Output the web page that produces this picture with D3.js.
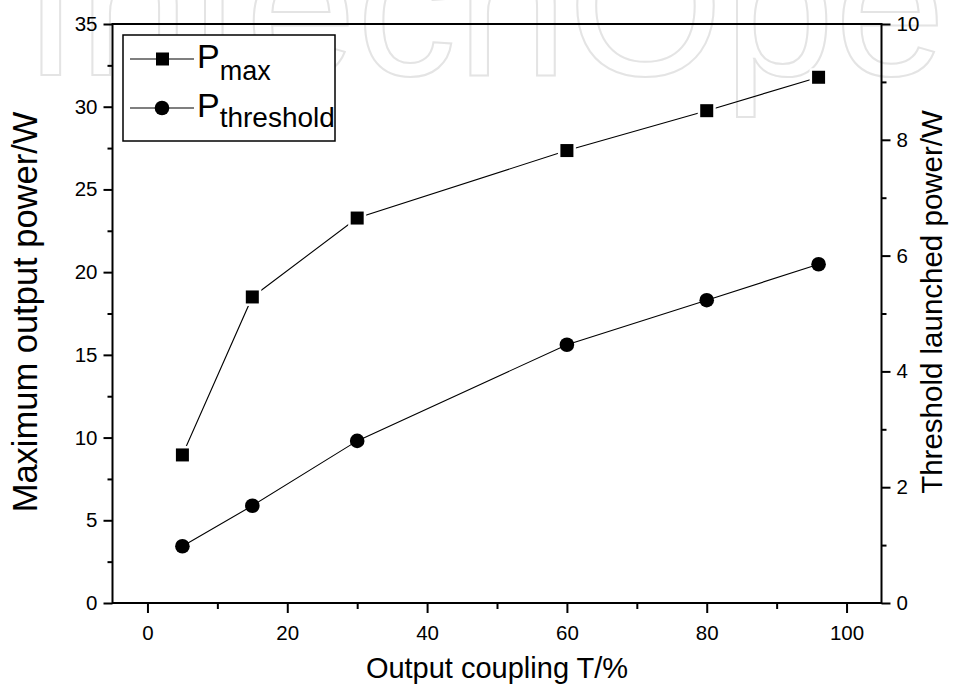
<!DOCTYPE html>
<html>
<head>
<meta charset="utf-8">
<script src="https://cdn.jsdelivr.net/npm/d3@7"></script>
<style>
  html, body { margin: 0; padding: 0; background: #fff; }
  svg { display: block; font-family: "Liberation Sans", Arial, Helvetica, sans-serif; }
</style>
</head>
<body>
<svg id="chart" width="953" height="685"></svg>
<script>
// Output coupling T (%)
const coupling = [5, 15, 30, 60, 80, 96];
// Maximum output power (W), left axis
const pMax = [8.95, 18.5, 23.27, 27.35, 29.76, 31.78];
// Threshold launched power (W), right axis
const pThreshold = [0.98, 1.68, 2.8, 4.46, 5.23, 5.85];

const xMajorTicks = [0, 20, 40, 60, 80, 100];
const xMinorTicks = [10, 30, 50, 70, 90];
const leftMajorTicks = [0, 5, 10, 15, 20, 25, 30, 35];
const leftMinorTicks = [2.5, 7.5, 12.5, 17.5, 22.5, 27.5, 32.5];
const rightMajorTicks = [0, 2, 4, 6, 8, 10];
const rightMinorTicks = [1, 3, 5, 7, 9];

const xLabel = "Output coupling T/%";
const leftLabel = "Maximum output power/W";
const rightLabel = "Threshold launched power/W";
const watermark = "IntechOpen";

const svg = d3.select("#chart");
const plotL = 112.5, plotR = 881.5, plotT = 24, plotB = 603;

const x = d3.scaleLinear().domain([-5, 105]).range([plotL, plotR]);
const yL = d3.scaleLinear().domain([0, 35]).range([plotB, plotT]);
const yR = d3.scaleLinear().domain([0, 10]).range([plotB, plotT]);

// faint outlined publisher mark across the top
svg.append("text")
  .attr("x", 23).attr("y", 75)
  .attr("font-size", 200)
  .attr("fill", "none")
  .attr("stroke", "#e4e4e4")
  .attr("stroke-width", 2)
  .text(watermark);

// axes
function styleAxis(g) {
  g.select(".domain").remove();
  g.selectAll("line").attr("stroke", "#000").attr("stroke-width", 2);
  g.selectAll("text").attr("fill", "#000").attr("font-size", 20.5)
    .attr("font-family", "'Liberation Sans', Arial, sans-serif");
}

svg.append("g").attr("transform", `translate(0,${plotB})`)
  .call(d3.axisBottom(x).tickValues(xMajorTicks).tickSize(10).tickPadding(12).tickFormat(d3.format("d")))
  .call(styleAxis);
svg.append("g").attr("transform", `translate(0,${plotB})`)
  .call(d3.axisBottom(x).tickValues(xMinorTicks).tickSize(6).tickFormat(""))
  .call(styleAxis);

svg.append("g").attr("transform", `translate(${plotL},0)`)
  .call(d3.axisLeft(yL).tickValues(leftMajorTicks).tickSize(9).tickPadding(6).tickFormat(d3.format("d")))
  .call(styleAxis);
svg.append("g").attr("transform", `translate(${plotL},0)`)
  .call(d3.axisLeft(yL).tickValues(leftMinorTicks).tickSize(5).tickFormat(""))
  .call(styleAxis);

svg.append("g").attr("transform", `translate(${plotR},0)`)
  .call(d3.axisRight(yR).tickValues(rightMajorTicks).tickSize(9).tickPadding(6).tickFormat(d3.format("d")))
  .call(styleAxis);
svg.append("g").attr("transform", `translate(${plotR},0)`)
  .call(d3.axisRight(yR).tickValues(rightMinorTicks).tickSize(5).tickFormat(""))
  .call(styleAxis);

// plot frame
svg.append("rect")
  .attr("x", plotL).attr("y", plotT)
  .attr("width", plotR - plotL).attr("height", plotB - plotT)
  .attr("fill", "none").attr("stroke", "#000").attr("stroke-width", 2);

// axis titles
svg.append("text")
  .attr("x", (plotL + plotR) / 2).attr("y", 678)
  .attr("text-anchor", "middle").attr("font-size", 29)
  .text(xLabel);
svg.append("text")
  .attr("transform", "translate(37,312) rotate(-90)")
  .attr("text-anchor", "middle").attr("font-size", 34.5)
  .text(leftLabel);
svg.append("text")
  .attr("transform", "translate(942,302) rotate(-90)")
  .attr("text-anchor", "middle").attr("font-size", 29.5)
  .text(rightLabel);

// series lines
const maxPts = coupling.map((c, i) => [x(c), yL(pMax[i])]);
const thrPts = coupling.map((c, i) => [x(c), yR(pThreshold[i])]);
const line = d3.line();

svg.append("path").attr("d", line(maxPts))
  .attr("fill", "none").attr("stroke", "#000").attr("stroke-width", 1.1);
svg.append("path").attr("d", line(thrPts))
  .attr("fill", "none").attr("stroke", "#000").attr("stroke-width", 1.1);

// square markers with a white halo that leaves a small gap in the line
const sq = 13;
svg.append("g").selectAll("rect").data(maxPts).join("rect")
  .attr("x", d => d[0] - sq / 2).attr("y", d => d[1] - sq / 2)
  .attr("width", sq).attr("height", sq)
  .attr("fill", "#000").attr("stroke", "#fff").attr("stroke-width", 5)
  .attr("paint-order", "stroke");

svg.append("g").selectAll("circle").data(thrPts).join("circle")
  .attr("cx", d => d[0]).attr("cy", d => d[1]).attr("r", 7.3)
  .attr("fill", "#000");

// legend
const lg = svg.append("g");
lg.append("rect").attr("x", 123).attr("y", 35).attr("width", 212).attr("height", 106)
  .attr("fill", "#fff").attr("stroke", "#000").attr("stroke-width", 1.5);

lg.append("line").attr("x1", 130).attr("x2", 194).attr("y1", 59).attr("y2", 59)
  .attr("stroke", "#000").attr("stroke-width", 1.1);
lg.append("rect").attr("x", 162.5 - sq / 2).attr("y", 59 - sq / 2)
  .attr("width", sq).attr("height", sq).attr("fill", "#000");
const t1 = lg.append("text").attr("x", 197).attr("y", 68).attr("font-size", 34);
t1.append("tspan").text("P");
t1.append("tspan").attr("dy", 12).attr("font-size", 27).text("max");

lg.append("line").attr("x1", 130).attr("x2", 194).attr("y1", 108).attr("y2", 108)
  .attr("stroke", "#000").attr("stroke-width", 1.1);
lg.append("circle").attr("cx", 162).attr("cy", 108).attr("r", 7.3).attr("fill", "#000");
const t2 = lg.append("text").attr("x", 197).attr("y", 117).attr("font-size", 34);
t2.append("tspan").text("P");
t2.append("tspan").attr("dy", 10).attr("font-size", 28).text("threshold");
</script>
</body>
</html>
